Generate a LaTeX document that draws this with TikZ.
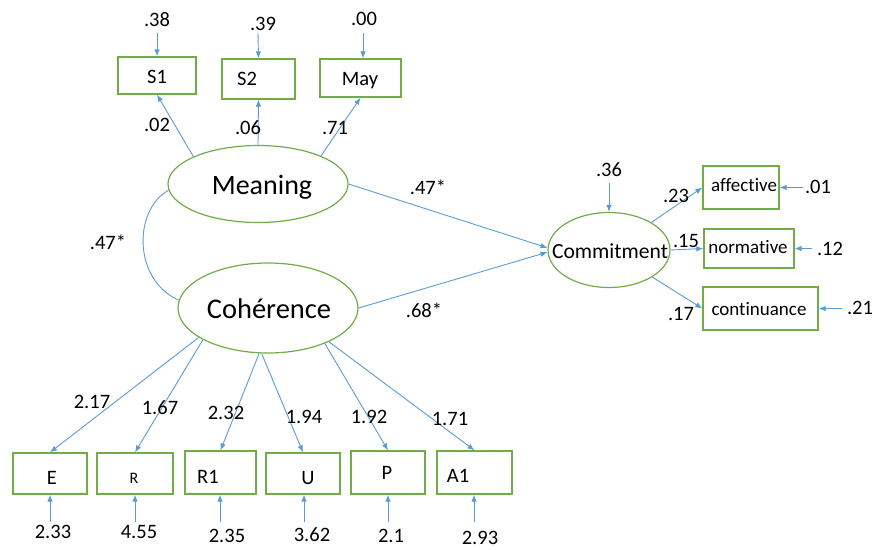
\documentclass[tikz,border=0pt]{standalone}
\usepackage{fontspec}
\setmainfont{Carlito}[Ligatures={NoCommon}]
\usetikzlibrary{arrows.meta,shapes.geometric}
\definecolor{gbox}{RGB}{112,173,71}
\definecolor{bline}{RGB}{91,155,213}
\begin{document}
\begin{tikzpicture}[x=1pt,y=-1pt,
  box/.style={draw=gbox,line width=1.3pt,inner sep=0pt,font=\fontsize{20.5}{24}\selectfont},
  lat/.style={draw=gbox,line width=1.2pt,ellipse,inner sep=0pt},
  arr/.style={draw=bline,line width=0.9pt,-{Latex[length=7pt,width=5.5pt]}},
  cov/.style={draw=bline,line width=0.9pt},
  num/.style={inner sep=0pt,font=\fontsize{20.5}{24}\selectfont},
  small/.style={inner sep=0pt,font=\fontsize{19}{22}\selectfont}]
\useasboundingbox (0,0) rectangle (888,549);
% latent variables
\node[lat,minimum width=180pt,minimum height=77pt] (mean) at (258,184) {};
\node[inner sep=0pt,font=\fontsize{28}{32}\selectfont] at (262,187) {Meaning};
\node[lat,minimum width=180pt,minimum height=90pt] (coh) at (268,308) {};
\node[inner sep=0pt,font=\fontsize{28.5}{32}\selectfont] at (269,309) {Cohérence};
\node[lat,minimum width=122pt,minimum height=75pt] (com) at (609,250) {};
\node[inner sep=0pt,font=\fontsize{21.6}{25}\selectfont] at (610,251) {Commitment};
% top boxes
\node[box,minimum width=78pt,minimum height=37pt] (S1) at (157,75.5) {};
\node[num] at (157,77) {S1};
\node[box,minimum width=73pt,minimum height=40pt] (S2) at (258.5,79) {};
\node[num] at (247,79) {S2};
\node[box,minimum width=81pt,minimum height=38pt] (May) at (360.5,78) {};
\node[num] at (360,81) {May};
% right boxes
\node[box,minimum width=76pt,minimum height=43pt] (aff) at (741,187.5) {};
\node[small] at (744,185) {affective};
\node[box,minimum width=90pt,minimum height=39pt] (nor) at (749,248.5) {};
\node[small] at (748,247) {normative};
\node[box,minimum width=115pt,minimum height=43pt] (con) at (760.5,308.5) {};
\node[small] at (759,309) {continuance};
% bottom boxes
\node[box,minimum width=74pt,minimum height=41pt] (E) at (50,473.5) {};
\node[num] at (52,478) {E};
\node[box,minimum width=76pt,minimum height=41pt] (R) at (135,473.5) {};
\node[inner sep=0pt,font=\fontsize{16}{19}\selectfont] at (134,478) {R};
\node[box,minimum width=71pt,minimum height=43pt] (R1) at (220.5,472.5) {};
\node[num] at (208,477) {R1};
\node[box,minimum width=74pt,minimum height=41pt] (U) at (303,473.5) {};
\node[num] at (308,478) {U};
\node[box,minimum width=74pt,minimum height=43pt] (P) at (388,472.5) {};
\node[num] at (387,473) {P};
\node[box,minimum width=75pt,minimum height=43pt] (A1) at (474.5,472.5) {};
\node[num] at (458,476) {A1};
% loadings of Meaning
\draw[arr] (mean.157) -- (S1.south);
\draw[arr] (mean.90) -- (S2.south);
\draw[arr] (mean.24) -- (May.south);
\node[num] at (157,125) {.02};
\node[num] at (248,128) {.06};
\node[num] at (335,128) {.71};
% errors top
\coordinate (eS1) at (157,33);
\coordinate (eS2) at (258,33);
\coordinate (eMay) at (363,33);
\draw[arr] (eS1) -- (S1.north);
\draw[arr] (eS2) -- (S2.north);
\draw[arr] (eMay) -- (eMay |- May.north);
\node[num] at (157,20) {.38};
\node[num] at (263,24) {.39};
\node[num] at (364,19) {.00};
% structural paths
\draw[arr] (mean.0) -- (com.178);
\draw[arr] (coh.0) -- (com.182);
\node[num] at (428,187) {.47*};
\node[num] at (424,310) {.68*};
\draw[cov] (mean.184) .. controls (133,210) and (133,280) .. (coh.175);
\node[num] at (108,242) {.47*};
% commitment loadings
\draw[arr] (com.33) -- (aff.west);
\draw[arr] (com.0) -- (nor.west);
\draw[arr] (com.-32) -- (con.west);
\node[num] at (676,196) {.23};
\node[num] at (686,241) {.15};
\node[num] at (681,314) {.17};
\coordinate (eCom) at (609,183);
\draw[arr] (eCom) -- (com.north);
\node[num] at (609,170) {.36};
\coordinate (eAff) at (803,187.5);
\coordinate (eNor) at (812,248.5);
\coordinate (eCon) at (842,308.5);
\draw[arr] (eAff) -- (aff.east);
\draw[arr] (eNor) -- (nor.east);
\draw[arr] (eCon) -- (con.east);
\node[num] at (818,187) {.01};
\node[num] at (830,249) {.12};
\node[num] at (860,308) {.21};
% coherence loadings
\draw[arr] (coh.203.7) -- (E.north);
\draw[arr] (coh.206) -- (R.north);
\draw[arr] (coh.259) -- (R1.north);
\draw[arr] (coh.262) -- (U.north);
\draw[arr] (coh.328) -- (P.north);
\draw[arr] (coh.331) -- (A1.north);
\node[num] at (92,402) {2.17};
\node[num] at (160,408) {1.67};
\node[num] at (226,413) {2.32};
\node[num] at (304,417) {1.94};
\node[num] at (369,417) {1.92};
\node[num] at (450,419) {1.71};
% bottom errors
\coordinate (eE) at (50,522);
\coordinate (eR) at (135,522);
\coordinate (eR1) at (220,522);
\coordinate (eU) at (304,522);
\coordinate (eP) at (388,522);
\coordinate (eA1) at (474,522);
\draw[arr] (eE) -- (eE |- E.south);
\draw[arr] (eR) -- (eR |- R.south);
\draw[arr] (eR1) -- (eR1 |- R1.south);
\draw[arr] (eU) -- (eU |- U.south);
\draw[arr] (eP) -- (eP |- P.south);
\draw[arr] (eA1) -- (eA1 |- A1.south);
\node[num] at (53,532) {2.33};
\node[num] at (139,532) {4.55};
\node[num] at (227,536) {2.35};
\node[num] at (312,535) {3.62};
\node[num] at (391,536) {2.1};
\node[num] at (480,537.5) {2.93};
\end{tikzpicture}
\end{document}
